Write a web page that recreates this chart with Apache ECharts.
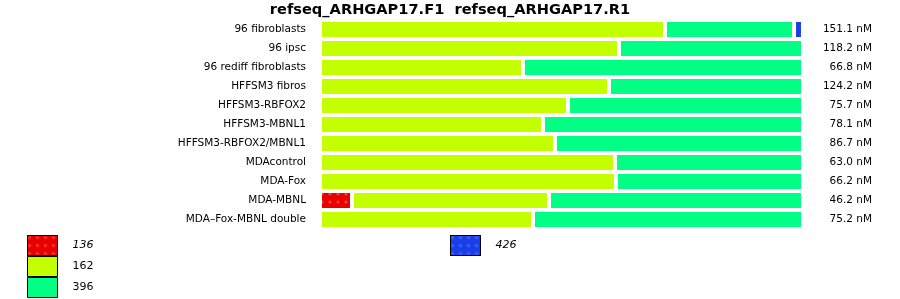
<!DOCTYPE html>
<html><head><meta charset="utf-8">
<script src="https://cdn.jsdelivr.net/npm/echarts@6/dist/echarts.min.js"></script>
<style>html,body{margin:0;padding:0;background:#fff}#c{width:900px;height:299px}</style>
</head><body><div id="c"></div>
<script>
const categories = ['96 fibroblasts','96 ipsc','96 rediff fibroblasts','HFFSM3 fibros','HFFSM3-RBFOX2','HFFSM3-MBNL1','HFFSM3-RBFOX2/MBNL1','MDAcontrol','MDA-Fox','MDA-MBNL','MDA–Fox-MBNL double'];
const concLabels = ['151.1 nM','118.2 nM','66.8 nM','124.2 nM','75.7 nM','78.1 nM','86.7 nM','63.0 nM','66.2 nM','46.2 nM','75.2 nM'];
const s136 = [0,0,0,0,0,0,0,0,0,6.63,0];
const s162 = [71.43,61.90,42.03,59.83,51.35,46.17,48.65,61.08,61.28,40.79,44.10];
const s396 = [26.71,38.10,57.97,40.17,48.65,53.83,51.35,38.92,38.72,52.59,55.90];
const s426 = [1.86,0,0,0,0,0,0,0,0,0,0];
const titleText = 'refseq_ARHGAP17.F1  refseq_ARHGAP17.R1';

const chart = echarts.init(document.getElementById('c'), null, {renderer:'canvas'});
const font = 'DejaVu Sans';
function bar(name, data, color, decal){
  const s = {name, type:'bar', stack:'t', data: data.map(v=>v===0?null:v), barWidth:19,
    itemStyle:{color, borderColor:'#fff', borderWidth:2}, emphasis:{disabled:true}, animation:false};
  if (decal) s.itemStyle.decal = decal;
  return s;
}
const legendText = {fontFamily:font, fontSize:11, color:'#000', padding:[0,0,0,10]};
chart.setOption({
  animation:false,
  title:{text:titleText, left:'center', top:0, padding:[3,0,0,0], textStyle:{fontFamily:font, fontSize:14.6, fontWeight:'bold', color:'#000'}},
  grid:{left:320, width:483, top:20, height:209},
  xAxis:{type:'value', min:0, max:100, show:false},
  yAxis:[
    {type:'category', data:categories, inverse:true, axisLine:{show:false}, axisTick:{show:false}, splitLine:{show:false},
     axisLabel:{fontFamily:font, fontSize:10.5, color:'#000', margin:14}},
    {type:'category', data:concLabels, inverse:true, position:'right', axisLine:{show:false}, axisTick:{show:false}, splitLine:{show:false},
     axisLabel:{fontFamily:font, fontSize:10.5, color:'#000', margin:69, align:'right'}}
  ],
  legend:[
    {data:[{name:'136', textStyle:{fontStyle:'italic'}}, '162', '396'], orient:'vertical', left:27, top:235, height:70, padding:0,
     itemWidth:30, itemHeight:20, itemGap:0,
     icon:'rect', itemStyle:{borderColor:'#000', borderWidth:1}, selectedMode:false, textStyle:legendText},
    {data:[{name:'426', textStyle:{fontStyle:'italic'}}], orient:'vertical', left:450, top:235, padding:0,
     itemWidth:30, itemHeight:20,
     icon:'rect', itemStyle:{borderColor:'#000', borderWidth:1}, selectedMode:false, textStyle:legendText}
  ],
  series:[
    bar('136', s136, '#e80000', {symbol:'circle', symbolSize:0.8, dashArrayX:4, dashArrayY:4, color:'rgba(255,70,70,0.85)'}),
    bar('162', s162, '#c4ff00'),
    bar('396', s396, '#00ff84'),
    bar('426', s426, '#1a3fe8', {symbol:'circle', symbolSize:0.8, dashArrayX:4, dashArrayY:4, color:'rgba(70,110,255,0.85)'})
  ]
});
</script></body></html>
